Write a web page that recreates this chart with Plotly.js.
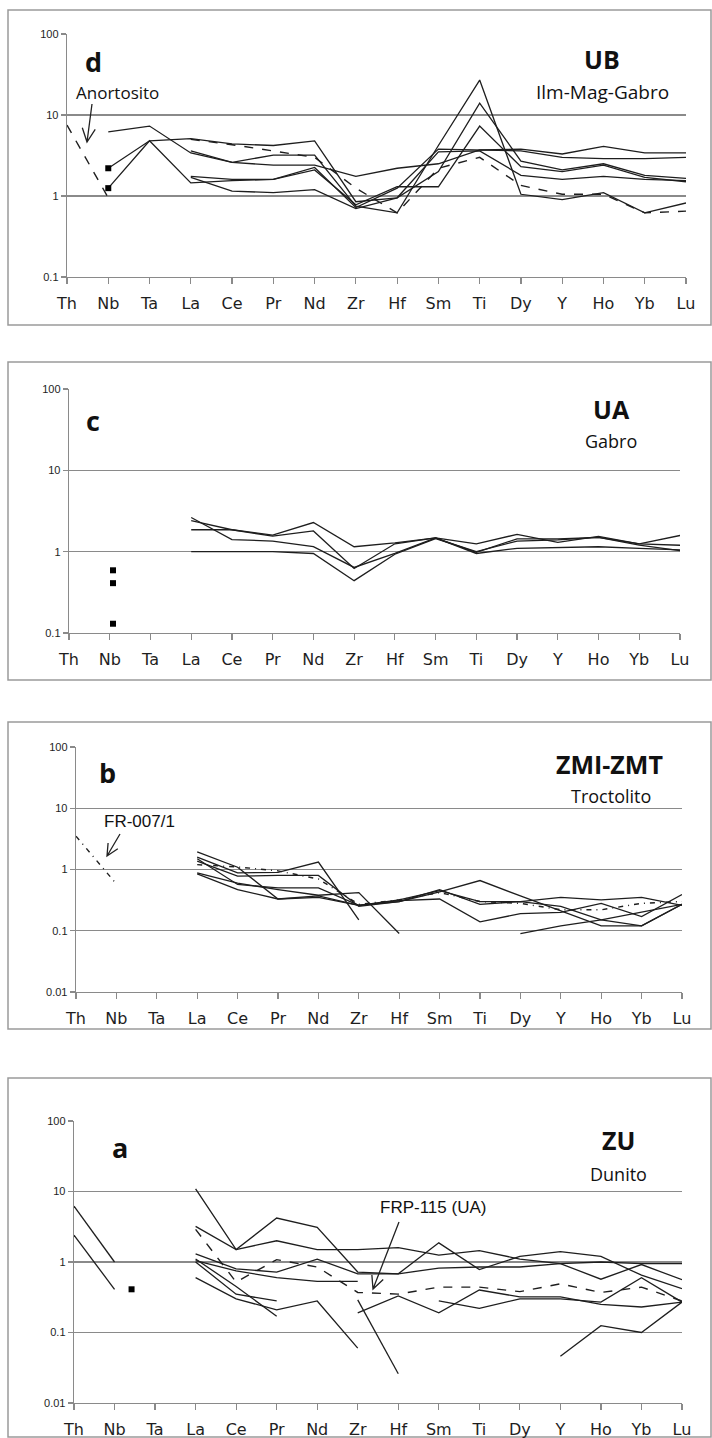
<!DOCTYPE html>
<html>
<head>
<meta charset="utf-8">
<script src="https://cdn.plot.ly/plotly-3.0.1.min.js"></script>
<style>
  html, body { margin: 0; padding: 0; background: #fff; }
  #chart { width: 712px; height: 1438px; }
</style>
</head>
<body>
<div id="chart"></div>
<script>
// Spider diagrams (normalised concentrations, log scale) for four units.
const elements = ['Th','Nb','Ta','La','Ce','Pr','Nd','Zr','Hf','Sm','Ti','Dy','Y','Ho','Yb','Lu'];
const N = null;

// d — UB, Ilm-Mag-Gabro
const ub1 = [N, 6.2, 7.3, 3.4, 2.6, 3.2, 3.2, 0.75, 0.62, 4.2, 27, 1.05, 0.9, 1.1, 0.62, 0.82];
const ub2 = [N, 2.2, 4.8, 5.1, 4.4, 4.2, 4.8, 0.85, 0.95, 2.0, 14, 2.7, 2.1, 2.5, 1.8, 1.65];
const ub3 = [N, 1.25, 4.8, 1.45, 1.55, 1.6, 2.1, 0.78, 1.3, 1.3, 7.3, 2.3, 2.0, 2.4, 1.7, 1.5];
const ub4 = [N, N, N, 3.6, 2.6, 2.4, 2.4, 1.75, 2.2, 2.5, 3.7, 3.8, 3.3, 4.1, 3.4, 3.4];
const ub5 = [N, N, N, 1.75, 1.6, 1.6, 2.25, 0.72, 1.25, 3.8, 3.7, 3.6, 3.0, 2.9, 2.9, 3.0];
const ub6 = [N, N, N, 1.7, 1.15, 1.1, 1.2, 0.7, 0.95, 3.5, 3.6, 1.8, 1.6, 1.75, 1.6, 1.55];
const anortosito = [7.5, 0.95, N, 5.0, 4.3, 3.6, 3.0, 1.25, 0.62, 2.2, 3.0, 1.35, 1.05, 1.05, 0.62, 0.65];

// c — UA, Gabro
const ua1 = [N, N, N, 2.63, 1.41, 1.35, 1.15, 0.64, 0.95, 1.48, 0.98, 1.44, 1.44, 1.5, 1.25, 1.58];
const ua2 = [N, N, N, 2.4, 1.86, 1.55, 1.8, 0.62, 1.25, 1.48, 1.25, 1.63, 1.3, 1.54, 1.25, 1.2];
const ua3 = [N, N, N, 1.86, 1.86, 1.6, 2.28, 1.15, 1.28, 1.48, 0.95, 1.1, 1.13, 1.15, 1.1, 1.05];
const ua4 = [N, N, N, 1.0, 1.0, 1.0, 0.95, 0.44, 0.93, 1.45, 1.0, 1.35, 1.4, 1.5, 1.2, 1.03];
const uaNb = [0.59, 0.41, 0.13];

// b — ZMI-ZMT, Troctolito
const zm1 = [N, N, N, 0.88, 0.6, 0.47, 0.38, 0.42, 0.09, N, N, N, N, N, N, N];
const zm2 = [N, N, N, 1.59, 0.88, 0.9, 1.32, 0.15, N, N, N, N, N, N, N, N];
const zm3 = [N, N, N, 1.94, 1.09, 0.33, 0.37, 0.26, 0.3, 0.47, 0.27, 0.3, 0.25, 0.15, 0.12, 0.27];
const zm4 = [N, N, N, 1.37, 0.78, 0.8, 0.8, 0.25, 0.3, 0.43, 0.66, 0.37, 0.21, 0.12, 0.12, 0.27];
const zm5 = [N, N, N, 0.85, 0.47, 0.33, 0.35, 0.26, 0.31, 0.33, 0.14, 0.19, 0.2, 0.28, 0.17, 0.39];
const zm6 = [N, N, N, N, N, N, N, N, N, N, N, 0.09, 0.12, 0.15, 0.2, 0.27];
const zm7 = [N, N, N, 1.5, 0.57, 0.5, 0.5, 0.26, 0.32, 0.45, 0.3, 0.3, 0.35, 0.32, 0.35, 0.26];
const fr007 = [3.5, 0.58, N, 1.2, 1.1, 0.95, 0.7, 0.27, 0.32, 0.42, 0.3, 0.28, 0.22, 0.22, 0.28, 0.3];

// a — ZU, Dunito
const zu1 = [6.2, 1.0, N, N, N, N, N, N, N, N, N, N, N, N, N, N];
const zu2 = [2.4, 0.41, N, N, N, N, N, N, N, N, N, N, N, N, N, N];
const zu3 = [N, N, N, 10.9, 1.5, 4.2, 3.1, 0.72, 0.68, 1.87, 0.78, 1.2, 1.4, 1.2, 0.65, 0.42];
const zu4 = [N, N, N, 3.2, 1.5, 2.0, 1.5, 1.5, 1.6, 1.25, 1.45, 1.1, 0.95, 0.57, 0.92, 0.56];
const zu5 = [N, N, N, 1.3, 0.8, 0.72, 1.1, 0.68, 0.68, 0.82, 0.85, 0.85, 0.95, 1.0, 0.95, 0.95];
const zu6 = [N, N, N, 1.05, 0.75, 0.6, 0.53, 0.53, N, N, N, N, N, N, N, N];
const zu7 = [N, N, N, 1.0, 0.35, 0.28, N, N, N, N, N, N, N, N, N, N];
const zu8 = [N, N, N, 0.6, 0.3, 0.21, 0.28, 0.06, N, N, N, N, N, N, N, N];
const zu9 = [N, N, N, 1.1, 0.45, 0.17, N, N, N, N, N, N, N, N, N, N];
const zu10 = [N, N, N, N, N, N, N, 0.29, 0.026, N, N, N, N, N, N, N];
const zu11 = [N, N, N, N, N, N, N, 0.19, 0.33, 0.19, 0.4, 0.32, 0.32, 0.25, 0.23, 0.27];
const zu12 = [N, N, N, N, N, N, N, N, N, 0.28, 0.22, 0.3, 0.3, 0.27, 0.6, 0.27];
const zu13 = [N, N, N, N, N, N, N, N, N, N, N, N, 0.046, 0.125, 0.1, 0.27];
const frp115 = [N, N, N, 2.9, 0.52, 1.08, 0.85, 0.37, 0.35, 0.44, 0.44, 0.38, 0.49, 0.37, 0.44, 0.28];
const zuNbX = [1.42];
const zuNb = [0.41];

// ---------------------------------------------------------------
const W = 712, H = 1438;
const px = x => x / W;
const py = y => 1 - y / H;
const idx = elements.map((_, i) => i);

const GRID = '#8a8a8a';
const INK = '#1e1e1e';

const panels = [
  { key: '', box: [8, 10, 711, 325], plot: [67, 34, 686, 277], lo: -1,
    series: [ub1, ub2, ub3, ub4, ub5, ub6], dashed: [anortosito], dashStyle: 'dash' },
  { key: '2', box: [8, 362, 711, 680], plot: [69, 389, 680, 633], lo: -1,
    series: [ua1, ua2, ua3, ua4], dashed: [], dashStyle: 'dash' },
  { key: '3', box: [8, 722, 711, 1029], plot: [76, 747, 682, 992], lo: -2,
    series: [zm1, zm2, zm3, zm4, zm5, zm6, zm7], dashed: [fr007], dashStyle: '5px,5px,1px,5px' },
  { key: '4', box: [8, 1078, 711, 1437], plot: [74, 1121, 682, 1403], lo: -2,
    series: [zu1, zu2, zu3, zu4, zu5, zu6, zu7, zu8, zu9, zu10, zu11, zu12, zu13], dashed: [frp115], dashStyle: 'dash' }
];

const traces = [];
const layout = {
  width: W, height: H,
  margin: { l: 0, r: 0, t: 0, b: 0 },
  paper_bgcolor: '#fff', plot_bgcolor: 'rgba(0,0,0,0)',
  showlegend: false,
  shapes: [], annotations: []
};

panels.forEach(p => {
  const xa = 'x' + p.key, ya = 'y' + p.key;
  p.series.forEach(s => traces.push({
    x: idx, y: s, xaxis: xa, yaxis: ya, type: 'scatter', mode: 'lines',
    line: { color: INK, width: 1.3 }, connectgaps: false, hoverinfo: 'skip'
  }));
  p.dashed.forEach(s => traces.push({
    x: idx, y: s, xaxis: xa, yaxis: ya, type: 'scatter', mode: 'lines',
    line: { color: INK, width: 1.4, dash: p.dashStyle }, connectgaps: false, hoverinfo: 'skip'
  }));

  const tickvals = [], ticktext = [];
  for (let e = p.lo; e <= 2; e++) {
    tickvals.push(Math.pow(10, e));
    ticktext.push(e >= 0 ? String(Math.pow(10, e)) : Math.pow(10, e).toFixed(-e));
  }
  const [x0, y0, x1, y1] = p.plot;
  layout['xaxis' + p.key] = {
    domain: [px(x0), px(x1)], anchor: ya, range: [0, 15],
    tickmode: 'array', tickvals: idx, ticktext: elements,
    showgrid: false, zeroline: false, showline: true, linecolor: GRID, linewidth: 1.3,
    ticks: 'outside', ticklen: 6, tickcolor: GRID, tickwidth: 1.2,
    ticklabelstandoff: 5,
    tickfont: { family: 'DejaVu Sans, sans-serif', size: 16, color: INK },
    fixedrange: true
  };
  layout['yaxis' + p.key] = {
    domain: [py(y1), py(y0)], anchor: xa, type: 'log', range: [p.lo, 2],
    tickmode: 'array', tickvals, ticktext,
    showgrid: true, gridcolor: GRID, gridwidth: 1.3, zeroline: false,
    showline: true, linecolor: GRID, linewidth: 1.3,
    ticks: 'outside', ticklen: 5, tickcolor: GRID, tickwidth: 1.2,
    tickfont: { family: 'Liberation Sans Narrow, Liberation Sans, sans-serif', size: 11, color: INK },
    fixedrange: true
  };
  const [bx0, by0, bx1, by1] = p.box;
  layout.shapes.push({
    type: 'rect', xref: 'paper', yref: 'paper',
    x0: px(bx0), x1: px(bx1), y0: py(by1), y1: py(by0),
    line: { color: '#9a9a9a', width: 1.5 }, fillcolor: 'rgba(0,0,0,0)', layer: 'below'
  });
});

// Nb values shown as isolated squares
const sq = { type: 'scatter', mode: 'markers', hoverinfo: 'skip',
             marker: { symbol: 'square', size: 6, color: '#000' } };
traces.push(Object.assign({}, sq, { x: [1, 1], y: [ub2[1], ub3[1]], xaxis: 'x', yaxis: 'y' }));
traces.push(Object.assign({}, sq, { x: uaNb.map(() => 1.08), y: uaNb, xaxis: 'x2', yaxis: 'y2' }));
traces.push(Object.assign({}, sq, { x: zuNbX, y: zuNb, xaxis: 'x4', yaxis: 'y4' }));

// Labels
const CAL = 'Open Sans, Lato, sans-serif';
const ARI = 'Liberation Sans, Arial, sans-serif';
function label(text, x, y, size, bold, family, yanchor) {
  layout.annotations.push({
    text: bold ? '<b>' + text + '</b>' : text, xref: 'paper', yref: 'paper',
    x: px(x), y: py(y), xanchor: 'center', yanchor: yanchor || 'middle', showarrow: false,
    borderpad: 0, font: { family: family || CAL, size, color: '#111' }
  });
}
label('d', 93, 62, 27, true);
label('UB', 602, 77, 25, true, CAL, 'bottom');
label('Ilm-Mag-Gabro', 602, 78, 19, false, CAL, 'top');
label('Anortosito', 118, 92, 17);

label('c', 93, 420, 27, true);
label('UA', 611, 427, 25, true, CAL, 'bottom');
label('Gabro', 611, 428, 18, false, CAL, 'top');

label('b', 107, 772, 27, true);
label('ZMI-ZMT', 609, 782, 25, true, CAL, 'bottom');
label('Troctolito', 611, 783, 18, false, CAL, 'top');
label('FR-007/1', 139, 821, 17, false, ARI);

label('a', 120, 1147, 27, true);
label('ZU', 618, 1158, 25, true, CAL, 'bottom');
label('Dunito', 618, 1161, 18, false, CAL, 'top');
label('FRP-115 (UA)', 433, 1207, 17, false, ARI);

// Pointer arrows with open heads
function arrow(tx, ty, hx, hy, len) {
  const a = Math.atan2(ty - hy, tx - hx), s = 0.45;
  const l = [hx + len * Math.cos(a + s), hy + len * Math.sin(a + s)];
  const r = [hx + len * Math.cos(a - s), hy + len * Math.sin(a - s)];
  const P = (x, y) => px(x).toFixed(5) + ',' + py(y).toFixed(5);
  layout.shapes.push({
    type: 'path', xref: 'paper', yref: 'paper',
    path: 'M' + P(tx, ty) + ' L' + P(hx, hy) + ' M' + P(l[0], l[1]) + ' L' + P(hx, hy) + ' L' + P(r[0], r[1]),
    line: { color: '#222', width: 1.3 }
  });
}
arrow(92, 104, 87, 142, 15);
arrow(120, 834, 107, 856, 13);
arrow(399, 1222, 373, 1289, 14);

Plotly.newPlot('chart', traces, layout, { staticPlot: true, displayModeBar: false });
</script>
</body>
</html>
